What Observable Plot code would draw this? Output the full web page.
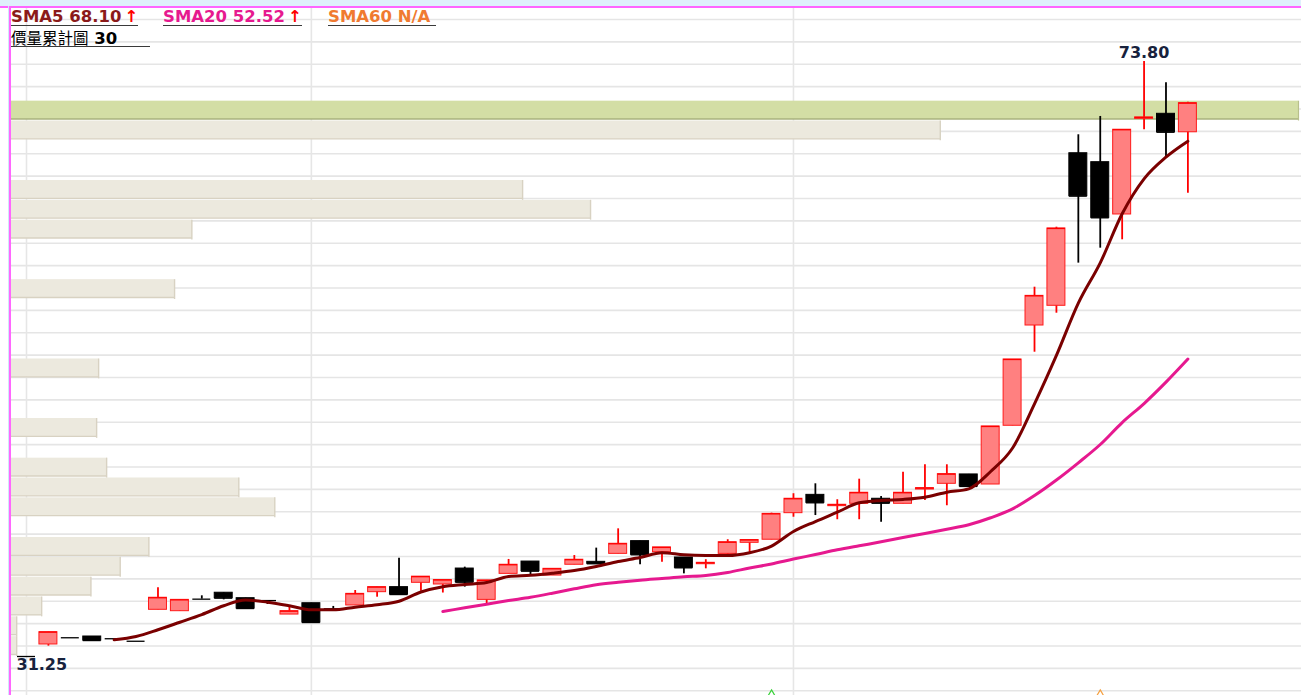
<!DOCTYPE html>
<html><head><meta charset="utf-8">
<script src="https://cdn.jsdelivr.net/npm/d3@7"></script>
<script src="https://cdn.jsdelivr.net/npm/@observablehq/plot@0.6"></script>
<style>
html,body{margin:0;padding:0;background:#fff;overflow:hidden}
#wrap{position:relative;width:1301px;height:695px;overflow:hidden;background:#fff}
#wrap svg{position:absolute;left:0;top:0;background:transparent !important;max-width:none !important}
.lg{position:absolute;font-family:"DejaVu Sans",Verdana,sans-serif;font-weight:bold;font-size:16.5px;line-height:17px;height:17px;white-space:nowrap;border-bottom:1.5px solid #3a3a3a}
.ar{color:#ff0000;margin-left:3px}
#topstrip{position:absolute;left:0;top:0;width:1301px;height:6px;background:#dff0fb;border-bottom:2px solid #ff66ff}
#leftline{position:absolute;left:9px;top:6px;width:2px;height:689px;background:#ff66ff;z-index:5}
#leftcyan{position:absolute;left:8px;top:6px;width:1px;height:689px;background:#cfeaf8}
</style></head><body><div id="wrap"><div id="topstrip"></div><div id="leftcyan"></div></div>
<script>
// ---- data ----
const opens  = [31.25,32.11,32.59,32.68,32.52,32.34,34.59,34.49,35.35,35.81,35.42,35.25,34.25,35.06,34.66,34.90,35.85,36.21,36.52,36.40,37.54,35.30,37.16,38.04,37.04,37.81,38.02,38.59,39.50,38.71,38.33,37.85,38.59,39.38,39.60,41.50,42.81,42.00,42.17,42.53,42.17,43.19,43.60,44.27,43.55,47.75,54.92,56.33,67.24,66.60,62.86,69.70,70.06,68.74];
const highs  = [31.25,32.99,32.59,32.68,32.52,32.34,36.16,35.30,35.59,35.81,35.42,35.25,34.78,35.06,34.83,35.97,36.21,38.28,36.96,36.72,37.64,36.69,38.19,38.04,37.52,38.47,39.00,40.38,39.50,39.05,38.33,38.17,39.60,39.58,41.50,42.89,43.60,42.46,43.93,42.69,44.43,44.96,44.96,44.27,47.70,52.49,57.66,61.95,68.56,69.87,68.92,73.80,72.28,70.89];
const lows   = [31.25,31.99,32.59,32.39,32.52,32.34,34.59,34.49,35.35,35.30,34.68,34.97,34.25,33.68,34.49,34.90,35.49,35.68,35.92,35.79,36.21,34.97,37.16,37.04,37.04,37.81,37.88,38.59,37.81,37.99,37.16,37.52,38.35,38.65,39.60,41.21,41.33,41.03,41.03,40.85,42.17,42.41,42.03,43.41,43.55,47.75,53.01,55.80,59.38,60.45,61.05,68.92,66.91,64.38];
const closes = [31.25,32.99,32.59,32.39,32.52,32.34,35.45,35.30,35.35,35.42,34.68,35.25,34.49,33.68,34.66,35.73,36.21,35.68,36.96,36.72,36.56,36.69,37.81,37.35,37.52,38.17,37.88,39.31,38.52,39.05,37.59,37.95,39.42,39.58,41.45,42.53,42.24,42.10,42.96,42.21,42.96,43.29,44.29,43.41,47.70,52.49,57.04,61.86,64.17,62.62,68.92,69.80,68.74,70.82];
const sma5  = [null,null,null,null,32.44,32.68,33.16,33.70,34.25,34.88,35.29,35.13,34.88,34.59,34.59,34.78,34.95,35.20,35.86,36.24,36.40,36.54,36.97,37.06,37.21,37.40,37.69,38.04,38.33,38.67,38.52,38.47,38.47,38.67,39.15,40.19,40.90,41.57,42.24,42.41,42.48,42.64,43.00,43.24,44.48,46.16,49.32,52.78,56.52,59.40,62.91,65.41,66.96,68.10];
const sma20 = [null,null,null,null,null,null,null,null,null,null,null,null,null,null,null,null,null,null,null,34.47,34.73,34.99,35.25,35.49,35.78,36.09,36.38,36.56,36.71,36.83,36.95,37.04,37.26,37.58,37.87,38.22,38.54,38.88,39.17,39.45,39.76,40.05,40.35,40.67,41.17,41.81,42.76,43.87,45.10,46.41,47.98,49.34,50.87,52.52];
// volume profile, 30 bins from the lowest low (bin 0) to the highest high (bin 29)
const profileVol = [57,57,307,800,1093,1380,0,2640,2280,957,0,857,0,0,877,0,0,0,1637,0,0,1810,5800,5120,0,0,9300,null,0,0];
const profileBins = 30;
const monthStarts = [0,13,35];        // candle indices with vertical grid lines
const signalsGreen = [34];
const signalsOrange = [49];
const gridTicks = d3.range(18, 49).map(k => +(k * 1.6).toFixed(2)); // price grid every 1.6

// ---- build ----
const W = 1301, H = 695;
const n = closes.length;
const candles = d3.range(n).map(i => ({i, open: opens[i], high: highs[i], low: lows[i], close: closes[i]}));
const up = candles.filter(d => d.close > d.open);
const down = candles.filter(d => !(d.close > d.open));
const lo = d3.min(lows), hi = d3.max(highs);
const step = (hi - lo) / profileBins;
const bins = profileVol.map((v, j) => ({lo: lo + j * step, hi: lo + (j + 1) * step, vol: v}));
const curBin = bins[Math.min(profileBins - 1, Math.floor((closes[n - 1] - lo) / step))];
const volBars = bins.filter(d => d.vol > 0);
const VOLMAX = 12880;

const yS = {domain: [lo, hi], range: [656, 61], axis: null};
const xC = {domain: [0, n - 1], range: [26, 1187.4], axis: null};
const common = {width: W, height: H, marginTop: 8, marginBottom: 0, marginLeft: 11, marginRight: 0,
  style: {background: "transparent", overflow: "visible"}};
const hw = 0.41;

const grid = Plot.plot({...common, x: xC, y: yS, marks: [
  Plot.ruleY(gridTicks, {stroke: "#e5e5e5", strokeWidth: 1.6}),
  Plot.ruleX(monthStarts, {stroke: "#e6e6e6", strokeWidth: 1.6})
]});

const prof = Plot.plot({...common, x: {domain: [0, VOLMAX], range: [11, 1298], axis: null}, y: yS, marks: [
  Plot.rect(volBars, {x1: 0, x2: "vol", y1: "lo", y2: "hi", fill: "#ecE9de", insetBottom: 1.5}),
  Plot.ruleY(volBars, {y: "lo", x1: 0, x2: "vol", stroke: "#d8d2c2", strokeWidth: 1.4, dy: -2}),
  Plot.ruleX(volBars, {x: "vol", y1: "lo", y2: "hi", stroke: "#d8d2c2", strokeWidth: 1.4, dx: -0.5}),
  Plot.rect([curBin], {x1: 0, x2: VOLMAX, y1: "lo", y2: "hi", fill: "#d3dea5", insetBottom: 1.5}),
  Plot.ruleY([curBin], {y: "lo", x1: 0, x2: VOLMAX, stroke: "#a9b27e", strokeWidth: 1.3, dy: -2}),
  Plot.ruleX([curBin], {x: VOLMAX, y1: "lo", y2: "hi", stroke: "#b8c08c", strokeWidth: 1.2})
]});

const main = Plot.plot({...common, x: xC, y: yS, marks: [
  Plot.ruleX(up, {x: "i", y1: "low", y2: "high", stroke: "#ff0000", strokeWidth: 1.8}),
  Plot.ruleX(down, {x: "i", y1: "low", y2: "high", stroke: "#000", strokeWidth: 1.8}),
  Plot.rect(up, {x1: d => d.i - hw, x2: d => d.i + hw, y1: "open", y2: "close", fill: "#ff8080", stroke: "#ff1a1a", strokeWidth: 1}),
  Plot.rect(down, {x1: d => d.i - hw, x2: d => d.i + hw, y1: "open", y2: "close", fill: "#000", stroke: "#000", strokeWidth: 1}),
  Plot.ruleY(up, {y: "close", x1: d => d.i - hw, x2: d => d.i + hw, stroke: "#ff0000", strokeWidth: 1.3}),
  Plot.ruleY(down, {y: "close", x1: d => d.i - hw, x2: d => d.i + hw, stroke: "#000", strokeWidth: 1.3}),
  Plot.line(d3.range(n).filter(i => sma20[i] != null), {x: i => i, y: i => sma20[i], stroke: "#e6198f", strokeWidth: 3, curve: "monotone-x"}),
  Plot.line(d3.range(n).filter(i => sma5[i] != null), {x: i => i, y: i => sma5[i], stroke: "#7a0000", strokeWidth: 3, curve: "monotone-x"}),
  Plot.text(candles.filter(d => d.high === hi), {x: "i", y: "high", text: d => d.high.toFixed(2), dy: -9,
    fill: "#17223d", fontWeight: "bold", fontSize: 16, fontFamily: "DejaVu Sans"}),
  Plot.text(candles.filter(d => d.low === lo), {x: "i", y: "low", text: d => d.low.toFixed(2), dy: 8, dx: -10, textAnchor: "start",
    fill: "#17223d", fontWeight: "bold", fontSize: 16, fontFamily: "DejaVu Sans"}),
  Plot.dot(signalsGreen, {x: d => d, frameAnchor: "bottom", dy: -1, symbol: "triangle", r: 3, stroke: "#3ad13a", fill: "none", strokeWidth: 1.2}),
  Plot.dot(signalsOrange, {x: d => d, frameAnchor: "bottom", dy: -1, symbol: "triangle", r: 3, stroke: "#f5a040", fill: "none", strokeWidth: 1.2})
]});

const wrap = document.getElementById("wrap");
wrap.appendChild(grid);
wrap.appendChild(prof);
wrap.appendChild(main);
const ll = document.createElement("div"); ll.id = "leftline"; wrap.appendChild(ll);

// legend
function arrow(arr) { const a = arr[n - 1], b = arr[n - 2]; return a > b ? "↑" : (a < b ? "↓" : ""); }
const legend = [
  {left: 11, top: 8, color: "#8b1a1a", html: `SMA5 ${sma5[n - 1].toFixed(2)}<span class="ar">${arrow(sma5)}</span>`},
  {left: 163, top: 8, color: "#e6198f", html: `SMA20 ${sma20[n - 1].toFixed(2)}<span class="ar">${arrow(sma20)}</span>`},
  {left: 328, top: 8, color: "#f07a30", html: `SMA60 N/A&nbsp;`},
  {left: 11, top: 29, color: "#000", width: 139, html: `<span style="font-family:'Noto Sans CJK TC';font-weight:normal;font-size:15.5px">價量累計圖</span> ${profileBins}`}
];
for (const l of legend) {
  const d = document.createElement("div");
  d.className = "lg";
  d.style.left = l.left + "px"; d.style.top = l.top + "px"; d.style.color = l.color;
  if (l.width) d.style.width = l.width + "px";
  d.innerHTML = l.html;
  wrap.appendChild(d);
}
</script></body></html>
